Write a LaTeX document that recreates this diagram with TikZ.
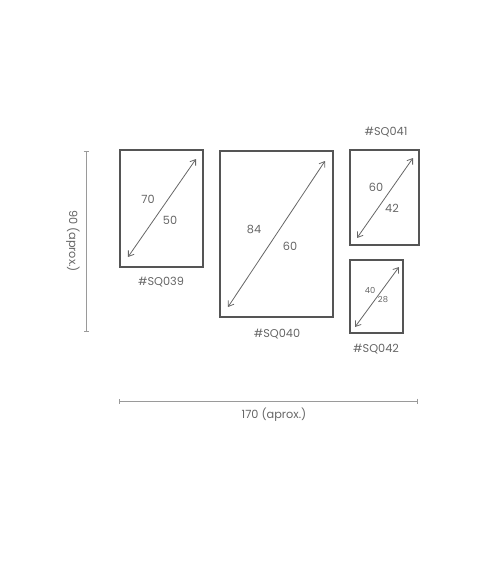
\documentclass[tikz,border=0pt]{standalone}
\usepackage{fontspec}
\setmainfont{Poppins}
\usetikzlibrary{arrows.meta}
\definecolor{frame}{HTML}{555555}
\definecolor{txt}{HTML}{666666}
\definecolor{dim}{HTML}{9A9A9A}
\begin{document}
\begin{tikzpicture}[x=1pt,y=-1pt,
  frm/.style={draw=frame,line width=2.3pt},
  diag/.style={draw=txt,line width=0.8pt,{Straight Barb[length=5pt,width=7pt]}-{Straight Barb[length=5pt,width=7pt]}},
  lbl/.style={text=txt,font=\fontsize{11.3}{13}\selectfont,inner sep=0pt},
  slbl/.style={text=txt,font=\fontsize{8.3}{10}\selectfont,inner sep=0pt},
  dimline/.style={draw=dim,line width=1pt,{Bar[width=5pt]}-{Bar[width=5pt]}}]
\useasboundingbox (0,0) rectangle (500,563);
% frames
\draw[frm] (120,150) rectangle (203,267);
\draw[frm] (220,151) rectangle (333,317);
\draw[frm] (350,150) rectangle (419,245);
\draw[frm] (350,260) rectangle (403,333);
% diagonal arrows
\coordinate (a1) at (128,257); \coordinate (b1) at (196,159);
\coordinate (a2) at (228,307); \coordinate (b2) at (325,161);
\coordinate (a3) at (357,238); \coordinate (b3) at (413,158);
\coordinate (a4) at (355,327); \coordinate (b4) at (399,267);
\draw[diag] (a1) -- (b1);
\draw[diag] (a2) -- (b2);
\draw[diag] (a3) -- (b3);
\draw[diag] (a4) -- (b4);
% size labels
\node[lbl] (t70) at (148,199) {70};
\node[lbl] (t50) at (170,220) {50};
\node[lbl] (t84) at (254,229) {84};
\node[lbl] (t60) at (290,246) {60};
\node[lbl] (t60b) at (376,187) {60};
\node[lbl] (t42) at (392,208) {42};
\node[slbl] (t40) at (370,290) {40};
\node[slbl] (t28) at (383,300) {28};
% names
\node[lbl] (n39) at (161,282) {\#SQ039};
\node[lbl] (n40) at (277,334) {\#SQ040};
\node[lbl] (n41) at (386,132) {\#SQ041};
\node[lbl] (n42) at (376,349) {\#SQ042};
% dimension lines
\coordinate (v1) at (86,151); \coordinate (v2) at (86,332);
\draw[dimline] (v1) -- (v2);
\node[lbl,rotate=-90] (dv) at (73,241) {90 (aprox.)};
\coordinate (h1) at (119,401); \coordinate (h2) at (418,401);
\draw[dimline] (h1) -- (h2);
\node[lbl] (dh) at (274,415) {170 (aprox.)};
\end{tikzpicture}
\end{document}
